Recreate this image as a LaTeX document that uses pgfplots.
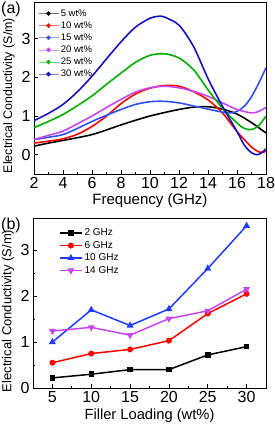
\documentclass[border=0pt]{standalone}
\usepackage{fontspec}
\setmainfont{Liberation Sans}
\usepackage{pgfplots}
\pgfplotsset{compat=1.18}
\definecolor{cnavy}{RGB}{20,20,190}
\definecolor{cblue}{RGB}{50,80,240}
\definecolor{cviolet}{RGB}{200,70,240}
\definecolor{cgreen}{RGB}{0,175,0}
\definecolor{cred}{RGB}{255,0,0}
\definecolor{cblueb}{RGB}{30,60,255}
\pgfplotsset{
  common/.style={
    scale only axis,
    anchor=south west,
    tick pos=left,
    tick align=inside,
    major tick length=4pt,
    minor tick length=2pt,
    axis line style={line width=0.8pt},
    every tick/.style={line width=0.7pt, black},
    ticklabel style={font=\fontsize{16}{18}\selectfont},
    /pgf/number format/assume math mode=true,
    legend cell align=left,
  }
}
\begin{document}
\begin{tikzpicture}
\useasboundingbox (0pt,0pt) rectangle (275pt,-425pt);
\node[anchor=north west, inner sep=0pt, font=\fontsize{16}{18}\selectfont] at (1pt,-2pt) {(a)};
\node[anchor=north west, inner sep=0pt, font=\fontsize{16}{18}\selectfont] at (1pt,-218pt) {(b)};
\begin{axis}[common,
  at={(34pt,-174pt)}, width=232pt, height=172pt,
  xmin=2, xmax=18, ymin=-0.5, ymax=3.95,
  xtick={2,4,...,18}, minor x tick num=1,
  ytick={0,1,2,3},
  xlabel={Frequency (GHz)},
  ylabel={Electrical Conductivity (S/m)},
  xlabel style={font=\fontsize{15}{17}\selectfont, at={(axis description cs:0.5,-0.157)}, anchor=center},
  ylabel style={font=\fontsize{12.4}{14}\selectfont, at={(axis description cs:-0.108,0.456)}, anchor=center},
  legend style={draw=none, fill=none, at={(0.013,0.975)}, anchor=north west,
    font=\fontsize{9.5}{11.4}\selectfont, inner sep=1pt, row sep=0pt},
  legend image code/.code={\draw[line width=0.6pt, opacity=0.55] (0pt,0pt) -- (20pt,0pt); \fill (10pt,0pt) circle (1.3pt);},
]
\addplot[black, line width=1.6pt, smooth] coordinates {(2,0.22)(3,0.30)(4,0.37)(5,0.44)(6,0.52)(7,0.64)(8,0.77)(9,0.89)(10,1.0)(11,1.09)(12,1.17)(13,1.23)(14,1.24)(15,1.18)(16,1.05)(17,0.83)(18,0.56)};
\addlegendentry{5 wt\%}
\addplot[cred, line width=1.6pt, smooth] coordinates {(2,0.30)(3,0.35)(4,0.41)(5,0.53)(6,0.73)(7,1.0)(8,1.32)(9,1.57)(10,1.72)(11,1.79)(12,1.77)(13,1.63)(14,1.42)(15,1.08)(16,0.60)(17,0.20)(17.6,0.06)(18,0.09)};
\addlegendentry{10 wt\%}
\addplot[cblue, line width=1.6pt, smooth] coordinates {(2,0.39)(3,0.45)(4,0.52)(5,0.68)(6,0.86)(7,1.02)(8,1.17)(9,1.30)(10,1.37)(11,1.38)(12,1.34)(13,1.26)(14,1.18)(15,1.10)(15.7,1.08)(16,1.12)(16.5,1.25)(17,1.5)(17.5,1.85)(18,2.25)};
\addlegendentry{15 wt\%}
\addplot[cviolet, line width=1.6pt, smooth] coordinates {(2,0.39)(3,0.50)(4,0.61)(5,0.80)(6,1.0)(7,1.22)(8,1.43)(9,1.62)(10,1.73)(11,1.77)(12,1.73)(13,1.64)(14,1.51)(15,1.34)(16,1.17)(17,1.08)(17.5,1.12)(18,1.22)};
\addlegendentry{20 wt\%}
\addplot[cgreen, line width=1.6pt, smooth] coordinates {(2,0.70)(3,0.86)(4,1.04)(5,1.27)(6,1.52)(7,1.82)(8,2.11)(9,2.39)(10,2.57)(11,2.61)(12,2.50)(13,2.20)(14,1.68)(15,1.20)(16,0.82)(16.5,0.68)(17,0.65)(17.5,0.75)(18,1.0)};
\addlegendentry{25 wt\%}
\addplot[cnavy, line width=1.6pt, smooth] coordinates {(2,0.88)(3,1.07)(4,1.30)(5,1.63)(6,2.03)(7,2.48)(8,2.92)(9,3.30)(10,3.53)(10.6,3.58)(11,3.56)(12,3.35)(13,2.80)(14,1.97)(15,1.25)(16,0.60)(16.5,0.25)(17,0.05)(17.4,0.0)(17.7,0.05)(18,0.15)};
\addlegendentry{30 wt\%}
\end{axis}
\begin{axis}[common,
  at={(33pt,-388pt)}, width=233pt, height=170pt,
  xmin=2.5, xmax=32.5, ymin=0, ymax=3.7,
  xtick={5,10,...,30}, minor x tick num=1,
  ytick={0,1,2,3}, minor y tick num=1,
  xlabel={Filler Loading (wt\%)},
  ylabel={Electrical Conductivity (S/m)},
  xlabel style={font=\fontsize{14.7}{16}\selectfont, at={(axis description cs:0.5,-0.163)}, anchor=center},
  ylabel style={font=\fontsize{13}{15}\selectfont, at={(axis description cs:-0.107,0.453)}, anchor=center},
  legend style={draw=none, fill=none, at={(0.107,0.955)}, anchor=north west,
    font=\fontsize{10}{12}\selectfont, inner sep=1pt, row sep=0pt},
  legend image code/.code={\draw[mark repeat=2, mark phase=2] plot coordinates {(0pt,0pt) (11pt,0pt) (22pt,0pt)};},
]
\addplot[black, line width=1.5pt, mark=square*, mark size=2pt] coordinates {(5,0.22)(10,0.30)(15,0.40)(20,0.40)(25,0.72)(30,0.90)};
\addlegendentry{2 GHz}
\addplot[cred, line width=1.5pt, mark=*, mark size=2.2pt] coordinates {(5,0.55)(10,0.75)(15,0.84)(20,1.03)(25,1.62)(30,2.05)};
\addlegendentry{6 GHz}
\addplot[cblueb, line width=1.5pt, mark=triangle*, mark size=2.6pt] coordinates {(5,1.0)(10,1.70)(15,1.36)(20,1.72)(25,2.60)(30,3.53)};
\addlegendentry{10 GHz}
\addplot[cviolet, line width=1.5pt, mark=triangle*, mark size=2.6pt, mark options={rotate=180}] coordinates {(5,1.24)(10,1.32)(15,1.15)(20,1.51)(25,1.68)(30,2.15)};
\addlegendentry{14 GHz}
\end{axis}
\end{tikzpicture}
\end{document}
